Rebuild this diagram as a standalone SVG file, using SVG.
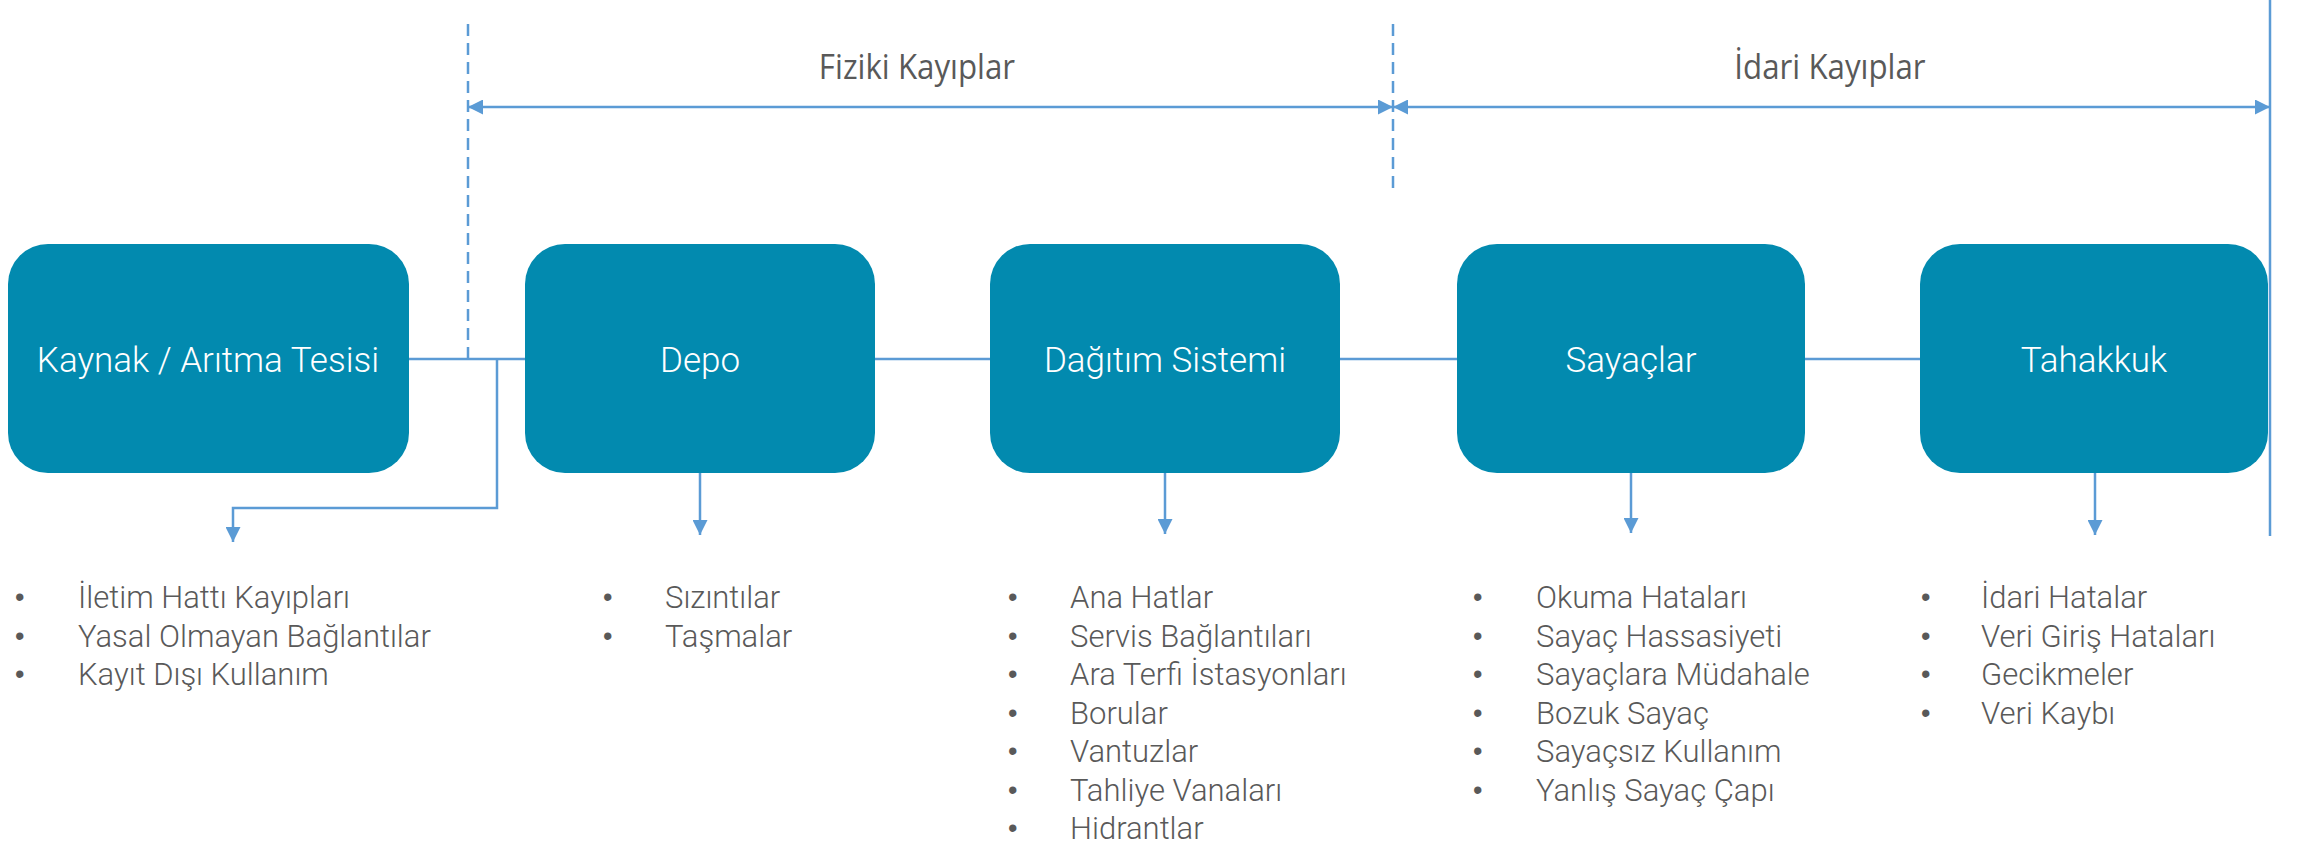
<svg xmlns="http://www.w3.org/2000/svg" width="2302" height="844" viewBox="0 0 2302 844">
  <style>
    .box { fill: #028AAF; }
    .box-label { font-family: Roboto, "Liberation Sans", sans-serif; font-weight: 300; font-size: 35px; fill: #FFFFFF; text-anchor: middle; }
    .item { font-family: Roboto, "Liberation Sans", sans-serif; font-weight: 300; font-size: 31px; fill: #595959; }
    .bullet { font-family: "Liberation Sans", sans-serif; font-size: 27px; fill: #595959; }
    .band-label { font-family: "Open Sans", "Liberation Sans", sans-serif; font-size: 34px; fill: #595959; text-anchor: middle; }
    .wire { stroke: #5B9BD5; stroke-width: 2.5; fill: none; }
    .dash { stroke: #5B9BD5; stroke-width: 2.5; fill: none; stroke-dasharray: 12 7; }
  </style>
  <defs>
    <marker id="tri" viewBox="0 0 15 15" refX="15" refY="7.5" markerWidth="15" markerHeight="15" markerUnits="userSpaceOnUse" orient="auto-start-reverse">
      <path d="M0,0 L15,7.5 L0,15 Z" fill="#5B9BD5"/>
    </marker>
  </defs>
  <rect width="2302" height="844" fill="#FFFFFF"/>

  <!-- connectors -->
  <g id="connectors">
    <!-- main flow line -->
    <line class="wire" x1="409" y1="359" x2="525" y2="359"/>
    <line class="wire" x1="875" y1="359" x2="990" y2="359"/>
    <line class="wire" x1="1340" y1="359" x2="1457" y2="359"/>
    <line class="wire" x1="1805" y1="359" x2="1920" y2="359"/>
    <!-- loss category boundaries -->
    <line class="dash" x1="468" y1="24" x2="468" y2="358"/>
    <line class="dash" x1="1393" y1="24" x2="1393" y2="190"/>
    <line class="wire" x1="2270" y1="0" x2="2270" y2="536"/>
    <!-- span arrows -->
    <line class="wire" x1="468" y1="107" x2="1393" y2="107" marker-start="url(#tri)" marker-end="url(#tri)"/>
    <line class="wire" x1="1393" y1="107" x2="2270" y2="107" marker-start="url(#tri)" marker-end="url(#tri)"/>
    <!-- drops to the lists -->
    <polyline class="wire" points="497,359 497,508 233,508 233,542" marker-end="url(#tri)"/>
    <line class="wire" x1="700" y1="473" x2="700" y2="535" marker-end="url(#tri)"/>
    <line class="wire" x1="1165" y1="473" x2="1165" y2="534" marker-end="url(#tri)"/>
    <line class="wire" x1="1631" y1="473" x2="1631" y2="533" marker-end="url(#tri)"/>
    <line class="wire" x1="2095" y1="473" x2="2095" y2="535" marker-end="url(#tri)"/>
  </g>

  <!-- span labels -->
  <g id="band-fiziki">
    <text class="band-label" transform="translate(917,79) scale(0.92,1)">Fiziki Kayıplar</text>
  </g>
  <g id="band-idari">
    <text class="band-label" transform="translate(1830,79) scale(0.92,1)">İdari Kayıplar</text>
  </g>

  <!-- process nodes -->
  <g id="node-kaynak">
    <rect class="box" x="8" y="244" width="401" height="229" rx="40" ry="40"/>
    <text class="box-label" x="208" y="372">Kaynak / Arıtma Tesisi</text>
  </g>
  <g id="node-depo">
    <rect class="box" x="525" y="244" width="350" height="229" rx="40" ry="40"/>
    <text class="box-label" x="700" y="372">Depo</text>
  </g>
  <g id="node-dagitim">
    <rect class="box" x="990" y="244" width="350" height="229" rx="40" ry="40"/>
    <text class="box-label" x="1165" y="372">Dağıtım Sistemi</text>
  </g>
  <g id="node-sayaclar">
    <rect class="box" x="1457" y="244" width="348" height="229" rx="40" ry="40"/>
    <text class="box-label" x="1631" y="372">Sayaçlar</text>
  </g>
  <g id="node-tahakkuk">
    <rect class="box" x="1920" y="244" width="348" height="229" rx="40" ry="40"/>
    <text class="box-label" x="2094" y="372">Tahakkuk</text>
  </g>

  <!-- loss lists -->
  <g id="list-kaynak">
    <text class="bullet" x="15" y="606">•</text><text class="item" x="78" y="608">İletim Hattı Kayıpları</text>
    <text class="bullet" x="15" y="644.5">•</text><text class="item" x="78" y="646.5">Yasal Olmayan Bağlantılar</text>
    <text class="bullet" x="15" y="683">•</text><text class="item" x="78" y="685">Kayıt Dışı Kullanım</text>
  </g>
  <g id="list-depo">
    <text class="bullet" x="603" y="606">•</text><text class="item" x="665" y="608">Sızıntılar</text>
    <text class="bullet" x="603" y="644.5">•</text><text class="item" x="665" y="646.5">Taşmalar</text>
  </g>
  <g id="list-dagitim">
    <text class="bullet" x="1008" y="606">•</text><text class="item" x="1070" y="608">Ana Hatlar</text>
    <text class="bullet" x="1008" y="644.5">•</text><text class="item" x="1070" y="646.5">Servis Bağlantıları</text>
    <text class="bullet" x="1008" y="683">•</text><text class="item" x="1070" y="685">Ara Terfi İstasyonları</text>
    <text class="bullet" x="1008" y="721.5">•</text><text class="item" x="1070" y="723.5">Borular</text>
    <text class="bullet" x="1008" y="760">•</text><text class="item" x="1070" y="762">Vantuzlar</text>
    <text class="bullet" x="1008" y="798.5">•</text><text class="item" x="1070" y="800.5">Tahliye Vanaları</text>
    <text class="bullet" x="1008" y="837">•</text><text class="item" x="1070" y="839">Hidrantlar</text>
  </g>
  <g id="list-sayaclar">
    <text class="bullet" x="1473" y="606">•</text><text class="item" x="1536" y="608">Okuma Hataları</text>
    <text class="bullet" x="1473" y="644.5">•</text><text class="item" x="1536" y="646.5">Sayaç Hassasiyeti</text>
    <text class="bullet" x="1473" y="683">•</text><text class="item" x="1536" y="685">Sayaçlara Müdahale</text>
    <text class="bullet" x="1473" y="721.5">•</text><text class="item" x="1536" y="723.5">Bozuk Sayaç</text>
    <text class="bullet" x="1473" y="760">•</text><text class="item" x="1536" y="762">Sayaçsız Kullanım</text>
    <text class="bullet" x="1473" y="798.5">•</text><text class="item" x="1536" y="800.5">Yanlış Sayaç Çapı</text>
  </g>
  <g id="list-tahakkuk">
    <text class="bullet" x="1921" y="606">•</text><text class="item" x="1981" y="608">İdari Hatalar</text>
    <text class="bullet" x="1921" y="644.5">•</text><text class="item" x="1981" y="646.5">Veri Giriş Hataları</text>
    <text class="bullet" x="1921" y="683">•</text><text class="item" x="1981" y="685">Gecikmeler</text>
    <text class="bullet" x="1921" y="721.5">•</text><text class="item" x="1981" y="723.5">Veri Kaybı</text>
  </g>
</svg>
